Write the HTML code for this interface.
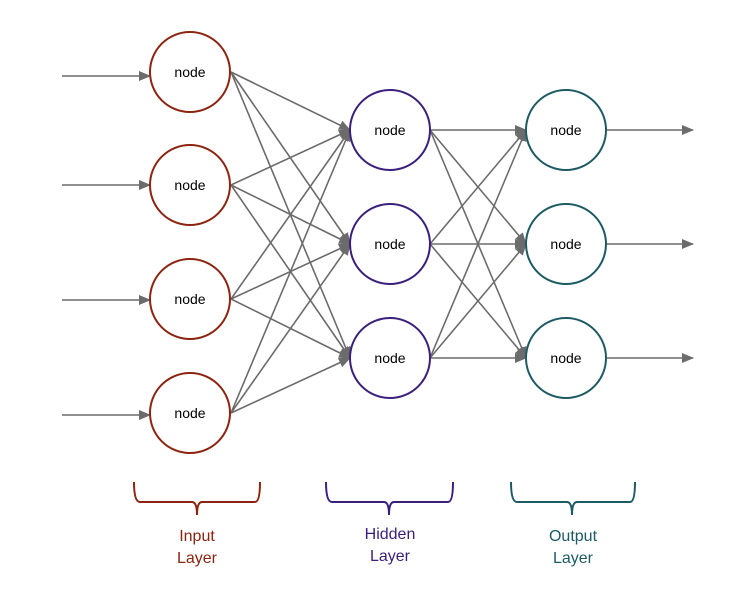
<!DOCTYPE html>
<html><head><meta charset="utf-8"><style>
html,body{margin:0;padding:0;background:#fff;}
svg{display:block;}
text{font-family:"Liberation Sans",Arial,sans-serif;}
</style></head><body>
<svg width="737" height="602" viewBox="0 0 737 602" xmlns="http://www.w3.org/2000/svg">
<defs>
<marker id="a" markerWidth="12" markerHeight="10" refX="11" refY="5" orient="auto" markerUnits="userSpaceOnUse">
<path d="M0,0 L12,5 L0,10 z" fill="#6b6b6b"/>
</marker>
</defs>
<g stroke="#6b6b6b" stroke-width="1.6" fill="none" marker-end="url(#a)">
<line x1="62" y1="76" x2="150" y2="76"/>
<line x1="62" y1="185" x2="150" y2="185"/>
<line x1="62" y1="300" x2="150" y2="300"/>
<line x1="62" y1="415" x2="150" y2="415"/>
<!-- input to hidden -->
<line x1="231" y1="72" x2="350" y2="130"/>
<line x1="231" y1="72" x2="350" y2="244"/>
<line x1="231" y1="72" x2="350" y2="358"/>
<line x1="231" y1="185" x2="350" y2="130"/>
<line x1="231" y1="185" x2="350" y2="244"/>
<line x1="231" y1="185" x2="350" y2="358"/>
<line x1="231" y1="299" x2="350" y2="130"/>
<line x1="231" y1="299" x2="350" y2="244"/>
<line x1="231" y1="299" x2="350" y2="358"/>
<line x1="231" y1="413" x2="350" y2="130"/>
<line x1="231" y1="413" x2="350" y2="244"/>
<line x1="231" y1="413" x2="350" y2="358"/>
<!-- hidden to output -->
<line x1="430" y1="130" x2="526" y2="130"/>
<line x1="430" y1="130" x2="526" y2="244"/>
<line x1="430" y1="130" x2="526" y2="358"/>
<line x1="430" y1="244" x2="526" y2="130"/>
<line x1="430" y1="244" x2="526" y2="244"/>
<line x1="430" y1="244" x2="526" y2="358"/>
<line x1="430" y1="358" x2="526" y2="130"/>
<line x1="430" y1="358" x2="526" y2="244"/>
<line x1="430" y1="358" x2="526" y2="358"/>
<!-- outputs -->
<line x1="606" y1="130" x2="693" y2="130"/>
<line x1="606" y1="244" x2="693" y2="244"/>
<line x1="606" y1="358" x2="693" y2="358"/>
</g>
<g fill="#fff" stroke-width="2">
<circle cx="190" cy="72" r="40" stroke="#8b2410"/>
<circle cx="190" cy="185" r="40" stroke="#8b2410"/>
<circle cx="190" cy="299" r="40" stroke="#8b2410"/>
<circle cx="190" cy="413" r="40" stroke="#8b2410"/>
<circle cx="390" cy="130" r="40" stroke="#3a1f7d"/>
<circle cx="390" cy="244" r="40" stroke="#3a1f7d"/>
<circle cx="390" cy="358" r="40" stroke="#3a1f7d"/>
<circle cx="566" cy="130" r="40" stroke="#1d5a64"/>
<circle cx="566" cy="244" r="40" stroke="#1d5a64"/>
<circle cx="566" cy="358" r="40" stroke="#1d5a64"/>
</g>
<g font-size="14" fill="#000" text-anchor="middle">
<text x="190" y="77">node</text>
<text x="190" y="190">node</text>
<text x="190" y="304">node</text>
<text x="190" y="418">node</text>
<text x="390" y="135">node</text>
<text x="390" y="249">node</text>
<text x="390" y="363">node</text>
<text x="566" y="135">node</text>
<text x="566" y="249">node</text>
<text x="566" y="363">node</text>
</g>
<g fill="none" stroke-width="2">
<path d="M134,482 Q134,502 140,502 L192,502 Q197,502 197,515 Q197,502 202,502 L255,502 Q260,502 260,482" stroke="#8b2410"/>
<path d="M326,482 Q326,502 332,502 L384,502 Q389,502 389,515 Q389,502 394,502 L448,502 Q453,502 453,482" stroke="#3a1f7d"/>
<path d="M511,482 Q511,502 517,502 L567,502 Q572,502 572,515 Q572,502 577,502 L630,502 Q635,502 635,482" stroke="#1d5a64"/>
</g>
<g font-size="16" text-anchor="middle">
<text x="197" y="541" fill="#8b2410">Input</text>
<text x="197" y="563" fill="#8b2410">Layer</text>
<text x="390" y="539" fill="#3a1f7d">Hidden</text>
<text x="390" y="561" fill="#3a1f7d">Layer</text>
<text x="573" y="541" fill="#1d5a64">Output</text>
<text x="573" y="563" fill="#1d5a64">Layer</text>
</g>
</svg>
</body></html>
